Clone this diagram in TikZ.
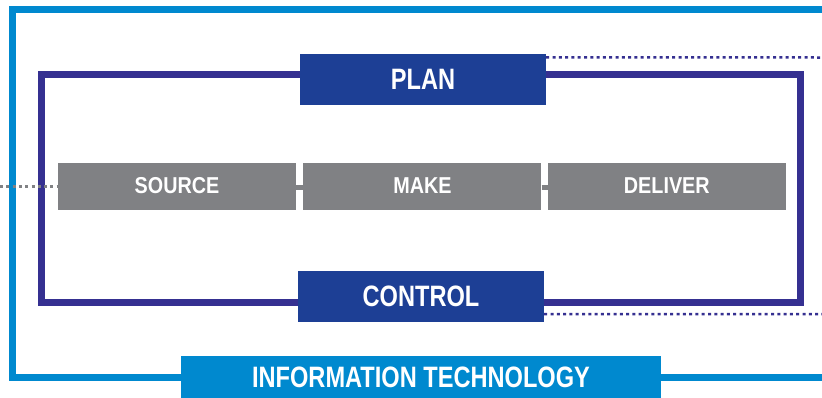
\documentclass[tikz,border=0pt]{standalone}
\usepackage{fontspec}
\newfontfamily\bigfont{Liberation Sans}[FakeStretch=0.80]
\newfontfamily\smallfont{Liberation Sans}[FakeStretch=0.86]
\usepackage{tikz}
\usetikzlibrary{positioning}
\definecolor{itblue}{RGB}{0,137,207}
\definecolor{framepurple}{RGB}{53,48,145}
\definecolor{boxblue}{RGB}{29,63,149}
\definecolor{stepgray}{RGB}{128,129,132}

\begin{document}
\begin{tikzpicture}[x=1pt, y=-1pt, node distance=7pt,
  bluebox/.style={fill=boxblue, text=white, minimum width=246pt, minimum height=51pt, inner sep=0pt, font=\bigfont\bfseries\fontsize{29.5}{30}\selectfont},
  graybox/.style={fill=stepgray, text=white, minimum width=238pt, minimum height=47pt, inner sep=0pt, font=\smallfont\bfseries\fontsize{23}{24}\selectfont},
  frameline/.style={line width=7pt},
  dots/.style={line width=2.5pt, dash pattern=on 3pt off 3.3pt}]
\useasboundingbox (0,0) rectangle (822,397);

\coordinate (ittop) at (822,9.5);
\coordinate (itright) at (822,377);
\coordinate (planend) at (822,57.5);
\coordinate (controlend) at (822,314);
\coordinate (sourcein) at (0,186.5);

\node[fill=itblue, text=white, minimum width=480pt, minimum height=42pt, inner sep=0pt, font=\bigfont\bfseries\fontsize{29.5}{30}\selectfont] (it) at (421,377) {INFORMATION TECHNOLOGY};
\node[bluebox] (plan) at (423,79.5) {PLAN};
\node[bluebox] (control) at (421,296.5) {CONTROL};

\node[graybox] (source) at (177,186) {SOURCE};
\node[graybox, right=of source] (make) {MAKE};
\node[graybox, right=6pt of make] (deliver) {DELIVER};

% frames
\draw[frameline, itblue] (it.west) -| (12.5,9.5) -- (ittop);
\draw[frameline, itblue] (it.east) -- (itright);
\draw[frameline, framepurple] ([yshift=5.5pt]plan.west) -| (41.5,302) -- ([yshift=-5.5pt]control.west);
\draw[frameline, framepurple] ([yshift=5.5pt]plan.east) -| (800.5,302) -- ([yshift=-5.5pt]control.east);

\draw[stepgray, line width=5pt] ([yshift=-1.5pt]source.east) -- ([yshift=-1.5pt]make.west);
\draw[stepgray, line width=5pt] ([yshift=-1.5pt]make.east) -- ([yshift=-1.5pt]deliver.west);

% dotted links
\draw[dots, framepurple] ([yshift=-3.5pt]plan.north east) -- (planend);
\draw[dots, framepurple] ([yshift=8pt]control.south east) -- (controlend);
\draw[dots, stepgray] (sourcein) -- ([yshift=-0.5pt]source.west);
\end{tikzpicture}
\end{document}
